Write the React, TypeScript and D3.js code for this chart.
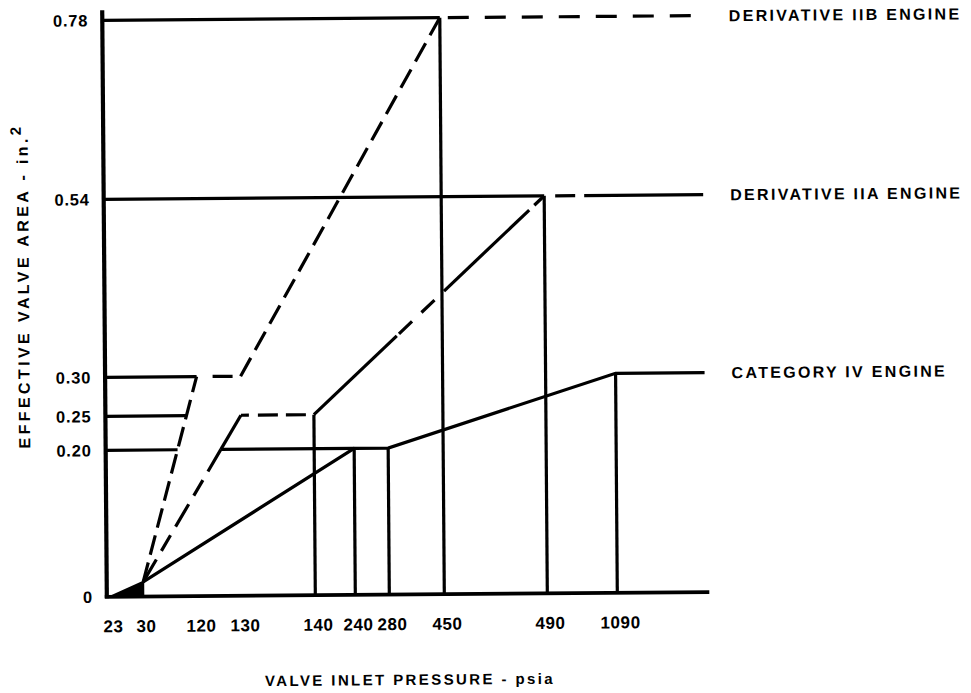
import React from "react";
import * as d3 from "d3";

// ---- data ----
const pressureTicks = [23, 30, 120, 130, 140, 240, 280, 450, 490, 1090];
const areaTicks = [0, 0.2, 0.25, 0.3, 0.54, 0.78];
const areaTickLabels = ["0", "0.20", "0.25", "0.30", "0.54", "0.78"];

const iibPressure = [23, 30, 120, 130, 450];
const iibArea = [0, 0.02, 0.3, 0.3, 0.78];
const iiaPressure = [23, 30, 130, 140, 490];
const iiaArea = [0, 0.02, 0.25, 0.25, 0.54];
const cat4Pressure = [23, 30, 240, 280, 1090];
const cat4Area = [0, 0.02, 0.2, 0.2, 0.3];

const iibDrops = [450];
const iiaDrops = [140, 490];
const cat4Drops = [240, 280, 1090];

const engineNames = ["DERIVATIVE IIB ENGINE", "DERIVATIVE IIA ENGINE", "CATEGORY IV ENGINE"];
const xTitle = "VALVE INLET PRESSURE - psia";
const yTitle = "EFFECTIVE VALVE AREA - in.";

// ---- layout ----
const W = 971;
const H = 693;
const FONT = "'Liberation Sans', Arial, Helvetica, sans-serif";
const SW = 3.2;

export default function App() {
  // schematic (non-uniform) axes: piecewise linear scales
  const x = d3
    .scaleLinear()
    .domain(pressureTicks)
    .range([108, 141, 196, 240, 313, 353, 387, 442, 545, 615]);
  const y = d3
    .scaleLinear()
    .domain(areaTicks)
    .range([594.5, 448, 414, 375, 197, 18]);

  const axisX = 104.5;
  const plotRight = 704;
  const labelX = 731;

  const pts = (P: number[], A: number[]) => P.map((p, i) => [x(p), y(A[i])] as [number, number]);
  const iib = pts(iibPressure, iibArea);
  const iia = pts(iiaPressure, iiaArea);
  const cat4 = pts(cat4Pressure, cat4Area);

  const lerp = (a: [number, number], b: [number, number], t: number): [number, number] => [
    a[0] + (b[0] - a[0]) * t,
    a[1] + (b[1] - a[1]) * t,
  ];
  const tAtY = (a: [number, number], b: [number, number], yy: number) => (yy - a[1]) / (b[1] - a[1]);
  const line = d3.line();

  // crossing points with reference levels
  const iibAt20 = lerp(iib[1], iib[2], tAtY(iib[1], iib[2], y(0.2)));
  const iibAt25 = lerp(iib[1], iib[2], tAtY(iib[1], iib[2], y(0.25)));
  const tIia20 = tAtY(iia[1], iia[2], y(0.2));
  const iiaAt20 = lerp(iia[1], iia[2], tIia20);

  type Seg = { d: string; dash?: string };
  const segs: Seg[] = [];
  const add = (p: [number, number][], dash?: string) => segs.push({ d: line(p) as string, dash });

  // reference lines from the y axis
  add([[axisX, y(0.78)], iib[4]]);
  add([[axisX, y(0.54)], iia[4]]);
  add([[axisX, y(0.3)], iib[2]]);
  add([[axisX, y(0.25)], iibAt25]);
  add([[axisX, y(0.2)], iibAt20]);
  add([iiaAt20, cat4[2]]);

  // drop lines
  const drop = (P: number[], A: number[], list: number[]) =>
    list.forEach((p) => {
      const a = A[P.indexOf(p)];
      add([[x(p), y(a)], [x(p), y(0)]]);
    });
  drop(iibPressure, iibArea, iibDrops);
  drop(iiaPressure, iiaArea, iiaDrops);
  drop(cat4Pressure, cat4Area, cat4Drops);

  // Category IV engine (solid)
  add([...cat4.slice(1), [plotRight, cat4[4][1]]]);

  // Derivative IIB engine (dashed)
  add([iib[1], iib[2]], "20 8");
  add([iib[2], iib[3], iib[4]], "0 16 20 8 21 9 21 9 21 9 21 9 21 9 21 9 21 9 21 9 21 9 21 9 21 9 21 9 21 9 21 9");
  add([iib[4], [plotRight, iib[4][1]]], "0 8 21 8");

  // Derivative IIA engine (mixed)
  add([iia[1], iiaAt20], "26 10 18 10");
  add([iiaAt20, iia[2]]);
  add([iia[2], iia[3]], "8 9 20 8 20 12");
  const d0 = iia[3], d1 = iia[4];
  add([d0, lerp(d0, d1, 0.36)]);
  add([lerp(d0, d1, 0.36), lerp(d0, d1, 0.565)], "0 3 18 10");
  add([lerp(d0, d1, 0.565), lerp(d0, d1, 0.935)]);
  add([lerp(d0, d1, 0.935), d1], "0 7 12 20");
  add([d1, [plotRight, d1[1]]], "0 11 20 9 400");

  const wedge = [cat4[0], [x(30), y(0)], cat4[1]] as [number, number][];
  const engineEnds = [iib[4][1], iia[4][1], cat4[4][1]];

  const txt = { fontFamily: FONT, fontWeight: 700 as const, fill: "#000" };

  return (
    <svg
      width={W}
      height={H}
      viewBox={`0 0 ${W} ${H}`}
      style={{ position: "absolute", left: 0, top: 0, background: "#fff" }}
    >
      <rect width={W} height={H} fill="#fff" />
      <g transform="rotate(-0.45 400 300)">
        {/* axes */}
        <line x1={axisX} x2={axisX} y1={y(0.78) - 10} y2={y(0) + 1.5} stroke="#000" strokeWidth={4.2} />
        <line x1={axisX - 2} x2={plotRight + 3} y1={y(0)} y2={y(0)} stroke="#000" strokeWidth={3.6} />

        {segs.map((s, i) => (
          <path
            key={i}
            d={s.d}
            fill="none"
            stroke="#000"
            strokeWidth={SW}
            strokeDasharray={s.dash}
            strokeLinejoin="miter"
          />
        ))}
        <path d={line(wedge) + "Z"} fill="#000" stroke="#000" strokeWidth={2} />

        {/* y tick labels */}
        {areaTicks.map((a, i) => (
          <text key={a} x={axisX - 14} y={y(a)} dy="0.36em" textAnchor="end" fontSize={16.5} letterSpacing={0.8} {...txt}>
            {areaTickLabels[i]}
          </text>
        ))}

        {/* x tick labels */}
        {pressureTicks.map((p) => (
          <text key={p} x={x(p) + 3} y={630} textAnchor="middle" fontSize={17} letterSpacing={0.6} {...txt}>
            {p}
          </text>
        ))}

        {/* engine labels */}
        {engineNames.map((n, i) => (
          <text key={n} x={labelX} y={engineEnds[i]} dy="0.36em" fontSize={16} letterSpacing={2.3} {...txt}>
            {n}
          </text>
        ))}

        {/* axis titles */}
        <text x={407} y={685} textAnchor="middle" fontSize={15} letterSpacing={2.4} {...txt}>
          {xTitle}
        </text>
        <text transform="translate(29 283) rotate(-90)" textAnchor="middle" fontSize={16} letterSpacing={3.4} {...txt}>
          {yTitle}
          <tspan dy={-7} fontSize={15}>2</tspan>
        </text>
      </g>
    </svg>
  );
}
